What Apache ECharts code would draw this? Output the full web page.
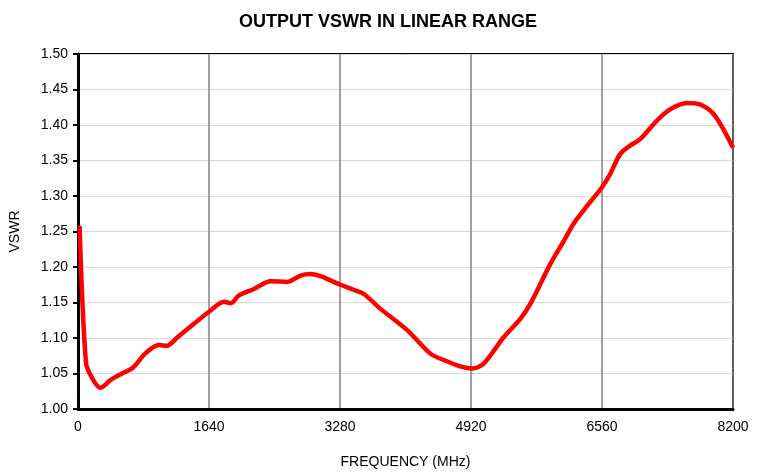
<!DOCTYPE html>
<html>
<head>
<meta charset="utf-8">
<title>Output VSWR</title>
<script src="https://cdn.jsdelivr.net/npm/echarts@6/dist/echarts.min.js"></script>
<style>
  html, body { margin: 0; padding: 0; background: #fff; }
  #chart { width: 767px; height: 474px; }
</style>
</head>
<body>
<div id="chart"></div>
<script>
// frequency in MHz
const freqs = [20, 100, 180, 280, 410, 550, 685, 850, 1015, 1110, 1246, 1440, 1640, 1830, 1912, 2016, 2204,
  2412, 2620, 2787, 2912, 3037, 3162, 3287, 3450, 3579, 3787, 4121, 4412, 4579, 4787, 4933, 5079,
  5329, 5537, 5662, 5912, 6079, 6204, 6380, 6558, 6662, 6787, 6912, 7037, 7246, 7412, 7621, 7787,
  7975, 8200];
const vswr = [1.258, 1.065, 1.043, 1.030, 1.041, 1.050, 1.058, 1.079, 1.090, 1.089, 1.101, 1.119, 1.137,
  1.151, 1.149, 1.160, 1.169, 1.180, 1.179, 1.188, 1.190, 1.187, 1.181, 1.175, 1.168, 1.162, 1.141,
  1.111, 1.078, 1.069, 1.060, 1.057, 1.064, 1.101, 1.127, 1.148, 1.204, 1.236, 1.261, 1.287, 1.312,
  1.331, 1.359, 1.371, 1.380, 1.406, 1.422, 1.431, 1.429, 1.413, 1.368];

const xTicks = [0, 1640, 3280, 4920, 6560, 8200];
const yTicks = [1.00, 1.05, 1.10, 1.15, 1.20, 1.25, 1.30, 1.35, 1.40, 1.45, 1.50];

const chart = echarts.init(document.getElementById("chart"));

const option = {
  animation: false,
  title: {
    text: "OUTPUT VSWR IN LINEAR RANGE",
    left: 383,
    textAlign: "center",
    top: 8,
    textStyle: {
      fontFamily: "Liberation Sans, Arial",
      fontSize: 18,
      fontWeight: "bold",
      color: "#000",
    },
  },
  grid: {
    left: 77,
    right: 34,
    top: 54,
    bottom: 63,
    show: true,
    borderColor: "#000",
    borderWidth: 2,
  },
  xAxis: {
    type: "value",
    min: xTicks[0],
    max: xTicks[xTicks.length - 1],
    interval: 1640,
    name: "FREQUENCY (MHz)",
    nameLocation: "middle",
    nameGap: 46,
    nameTextStyle: { fontFamily: "Liberation Sans, Arial", fontSize: 14, color: "#000" },
    axisLine: { lineStyle: { color: "#000", width: 3 } },
    axisTick: { show: false },
    axisLabel: {
      fontFamily: "Liberation Sans, Arial",
      fontSize: 14,
      color: "#000",
      margin: 11,
      formatter: (v) => String(v),
    },
    splitLine: { show: true, lineStyle: { color: "#808080", width: 1.5 } },
  },
  yAxis: {
    type: "value",
    min: yTicks[0],
    max: yTicks[yTicks.length - 1],
    interval: 0.05,
    name: "VSWR",
    nameLocation: "middle",
    nameGap: 56,
    nameTextStyle: { fontFamily: "Liberation Sans, Arial", fontSize: 14, color: "#000" },
    axisLine: { show: true, lineStyle: { color: "#000", width: 3 } },
    axisTick: { show: true, length: 5, lineStyle: { color: "#000", width: 2 } },
    axisLabel: {
      fontFamily: "Liberation Sans, Arial",
      fontSize: 14,
      color: "#000",
      margin: 10,
      formatter: (v) => v.toFixed(2),
    },
    splitLine: { show: true, lineStyle: { color: "#d9d9d9", width: 1 } },
  },
  series: [
    {
      type: "line",
      data: freqs.map((f, i) => [f, vswr[i]]),
      smooth: 0.3,
      showSymbol: false,
      lineStyle: { color: "#ff0000", width: 4.5 },
      z: 5,
    },
  ],
};

chart.setOption(option);
</script>
</body>
</html>
